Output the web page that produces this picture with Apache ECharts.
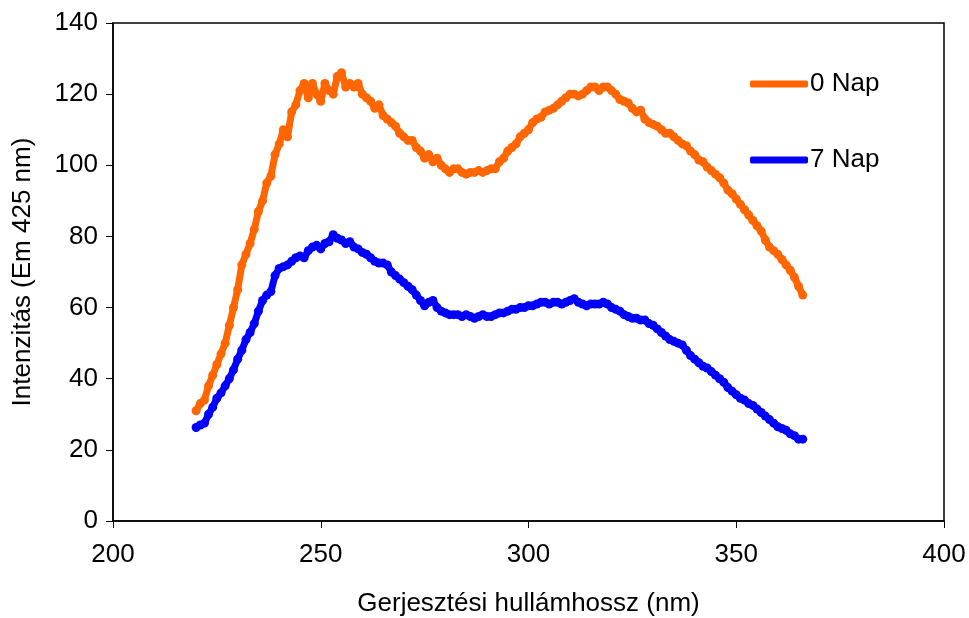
<!DOCTYPE html>
<html>
<head>
<meta charset="utf-8">
<script src="https://cdn.jsdelivr.net/npm/echarts@6/dist/echarts.min.js"></script>
<style>html,body{margin:0;padding:0;background:#fff}#c{width:969px;height:618px}</style>
</head>
<body>
<div id="c"></div>
<script>
const wavelengthStart = 220;
const xTicks = [200, 250, 300, 350, 400];
const yTicks = [0, 20, 40, 60, 80, 100, 120, 140];
const seriesNames = ['0 Nap', '7 Nap'];
const nap0 = [31,33,34,38,41,44,47,50,55,60,65,72,75,78,82,87,90,95,97,103,106,110,108,115,117,121,123,119,123,120,118,123,121,120,125,126,122,123,122,123,120,119,118,116,117,114,113,112,111,109,108,107,107,105,104,102,103,101,102,100,99,98,99,99,98,97.5,98,98,98.5,98,98.5,99,99,101,102,104,105,106,108,109,110,112,113,113.5,115,115.5,116,117,118,119,120,120,119.5,120,121,122,122,121,122,122,121,120,118.5,118,117.5,116,115,115.5,113,112,111.5,111,110,109,109,108,107,106,105.5,104,103,101.5,101,99.5,98.5,97.5,96.5,95,93,92,90.5,89,87.5,86,84.5,83,81.5,79,77,76,75,73.5,72,70.5,68.5,66,63.5];
const nap7 = [26.3,27,27.5,30,32,34.5,36,38,40,42.5,45.5,48,51,53,55.5,59,62,63.5,64.5,69,71,71.5,72,73,74,74.5,74,76,77,77.5,76.5,78,78.5,80.5,79.5,79,78,78.5,77,76.5,75.5,75,74,73,72.5,72.5,72,70,69,68,67,66,65,63.5,62,60.5,61.5,62,60,59,58.5,58,58,58,57.5,58,57.5,57,57.5,58,57.5,57.5,58,58.5,58.5,59,59.5,59.5,60,60,60.5,60.5,61,61.5,61.5,61,61.5,61.5,61,61.5,62,62.5,61.5,61,60.5,61,61,61,61.5,61,60,59.5,59,58,57.5,57,57,56.5,56.5,55.5,55,54,53,52,51,50.5,50,49.5,48,46.5,45.5,44.5,43.5,43,42,41,40,39,37.5,36.5,35.5,34.5,34,33,32.5,31.5,30.5,29.5,28.5,27.5,26.5,26,25.5,24.5,24,23,23];

const toPairs = arr => arr.map((v, i) => [wavelengthStart + i, v]);
const font = 'Liberation Sans, Arial, sans-serif';
const fs = 26;
const chart = echarts.init(document.getElementById('c'));
chart.setOption({
  animation: false,
  backgroundColor: '#fff',
  grid: { left: 113, right: 25, top: 23, bottom: 97, show: true, borderColor: '#000', borderWidth: 1.5, containLabel: false, outerBoundsMode: 'none' },
  legend: {
    orient: 'vertical', left: 745, top: 66, itemGap: 50,
    itemWidth: 58, itemHeight: 7, icon: 'roundRect',
    textStyle: { fontFamily: font, fontSize: fs, color: '#000', padding: [0,0,0,-3] },
    data: seriesNames
  },
  xAxis: {
    type: 'value', min: xTicks[0], max: xTicks[xTicks.length-1], interval: 50,
    name: 'Gerjesztési hullámhossz (nm)', nameLocation: 'middle', nameGap: 70,
    nameTextStyle: { fontFamily: font, fontSize: fs, color: '#000' },
    axisLine: { lineStyle: { color: '#000', width: 1.5 } },
    axisTick: { show: true, inside: false, length: 7, lineStyle: { color: '#000' } },
    axisLabel: { fontFamily: font, fontSize: fs, color: '#000', margin: 21 },
    splitLine: { show: false }
  },
  yAxis: {
    type: 'value', min: yTicks[0], max: yTicks[yTicks.length-1], interval: 20,
    name: 'Intenzitás (Em 425 nm)', nameLocation: 'middle', nameGap: 77, nameRotate: 90,
    nameTextStyle: { fontFamily: font, fontSize: fs, color: '#000' },
    axisLine: { lineStyle: { color: '#000', width: 1.5 } },
    axisTick: { show: true, inside: false, length: 7, lineStyle: { color: '#000' } },
    axisLabel: { fontFamily: font, fontSize: fs, color: '#000', margin: 15 },
    splitLine: { show: false }
  },
  series: [
    { name: seriesNames[0], type: 'line', data: toPairs(nap0), color: '#FF6600',
      symbol: 'circle', symbolSize: 9, showSymbol: true, lineStyle: { width: 7, color: '#FF6600' },
      itemStyle: { color: '#FF6600' } },
    { name: seriesNames[1], type: 'line', data: toPairs(nap7), color: '#0000FF',
      symbol: 'circle', symbolSize: 9, showSymbol: true, lineStyle: { width: 7, color: '#0000FF' },
      itemStyle: { color: '#0000FF' } }
  ]
});
</script>
</body>
</html>
